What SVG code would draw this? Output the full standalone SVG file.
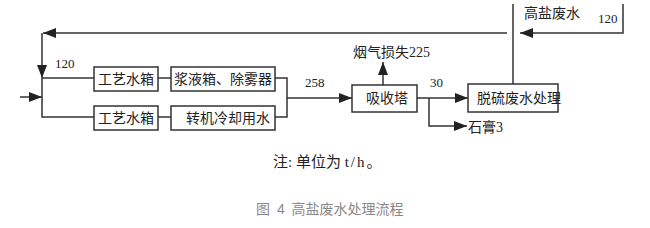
<svg xmlns="http://www.w3.org/2000/svg" width="650" height="228" viewBox="0 0 650 228">
<style>
.box{fill:#fff;stroke:#333;stroke-width:1.5}
.ln{fill:none;stroke:#333;stroke-width:1.5}
.t{font-family:"Liberation Serif","Noto Sans CJK SC",serif;font-size:14px;fill:#222}
.n{font-family:"Liberation Serif","Noto Sans CJK SC",serif;font-size:13px;fill:#222}
.cap{font-family:"Liberation Sans","Noto Sans CJK SC",sans-serif;font-size:14px;fill:#888}
</style>
<defs>
<marker id="ah" markerUnits="userSpaceOnUse" markerWidth="14" markerHeight="12" refX="13" refY="5" orient="auto">
<path d="M0,0 L13,5 L0,10 Z" fill="#222"/>
</marker>
</defs>
<rect width="650" height="228" fill="#fff"/>
<g id="connectors">
<path class="ln" d="M507,33 H43" marker-end="url(#ah)"/>
<path class="ln" d="M42,33 V78" marker-end="url(#ah)"/>
<path class="ln" d="M42,78 V117 H94"/>
<path class="ln" d="M42,78 H94"/>
<path class="ln" d="M20,97 H42" marker-end="url(#ah)"/>
<path class="ln" d="M158,78 H171"/>
<path class="ln" d="M158,117 H171"/>
<path class="ln" d="M275,78 H287 V117 H275"/>
<path class="ln" d="M287,98 H352" marker-end="url(#ah)"/>
<path class="ln" d="M383,85 V62" marker-end="url(#ah)"/>
<path class="ln" d="M417,98 H468" marker-end="url(#ah)"/>
<path class="ln" d="M429,98 V126 H467" marker-end="url(#ah)"/>
<path class="ln" d="M513,84 V4"/>
<path class="ln" d="M623,4 V33 H520" marker-end="url(#ah)"/>
<text class="n" x="55" y="68">120</text>
<text class="n" x="305" y="87">258</text>
<text class="t" x="353" y="57">烟气损失225</text>
<text class="n" x="430" y="87">30</text>
<text class="t" x="468" y="132">石膏3</text>
<text class="t" x="524" y="18">高盐废水</text>
<text class="n" x="598" y="23">120</text>
</g>
<g id="n1"><rect class="box" x="94" y="67" width="64" height="24"/><text class="t" x="126" y="84" text-anchor="middle">工艺水箱</text></g>
<g id="n2"><rect class="box" x="171" y="67" width="104" height="24"/><text class="t" x="223" y="84" text-anchor="middle">浆液箱、除雾器</text></g>
<g id="n3"><rect class="box" x="94" y="106" width="64" height="24"/><text class="t" x="126" y="123" text-anchor="middle">工艺水箱</text></g>
<g id="n4"><rect class="box" x="171" y="106" width="104" height="24"/><text class="t" x="186" y="123">转机冷却用水</text></g>
<g id="n5"><rect class="box" x="352" y="85" width="65" height="27"/><text class="t" x="366" y="103">吸收塔</text></g>
<g id="n6"><rect class="box" x="468" y="84" width="90" height="28"/><text class="t" x="477" y="103">脱硫废水处理</text></g>
<text class="t" x="273" y="167" style="font-size:15px">注: 单位为 <tspan letter-spacing="2">t/h</tspan>。</text>
<text class="cap" x="256" y="214" word-spacing="3">图 4 高盐废水处理流程</text>
</svg>
